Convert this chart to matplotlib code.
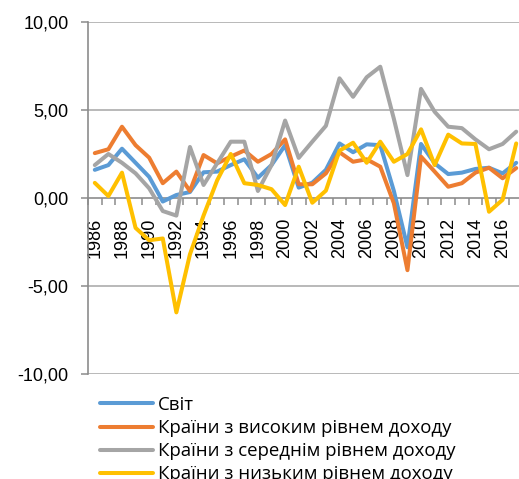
import matplotlib
matplotlib.use("Agg")
import matplotlib.pyplot as plt
import numpy as np

years = list(range(1986, 2018))
world = [1.6, 1.87, 2.8, 2.0, 1.2, -0.2, 0.17, 0.34, 1.46, 1.5, 1.87, 2.2, 1.15, 1.87, 3.0,
         0.59, 0.87, 1.6, 3.1, 2.6, 3.05, 3.0, 0.4, -2.8, 3.07, 1.97, 1.36, 1.44, 1.65, 1.72, 1.4, 2.0]
high = [2.55, 2.77, 4.05, 3.0, 2.29, 0.84, 1.5, 0.4, 2.44, 1.97, 2.35, 2.7, 2.06, 2.5, 3.33,
        0.78, 0.78, 1.4, 2.6, 2.06, 2.2, 1.78, -0.3, -4.1, 2.35, 1.5, 0.64, 0.84, 1.44, 1.72, 1.12, 1.7]
middle = [1.87, 2.5, 2.0, 1.4, 0.55, -0.74, -1.0, 2.9, 0.74, 1.97, 3.2, 3.2, 0.4, 1.87, 4.4,
          2.28, 3.2, 4.1, 6.8, 5.75, 6.86, 7.46, 4.5, 1.3, 6.2, 4.9, 4.05, 3.97, 3.33, 2.77, 3.07, 3.77]
low = [0.86, 0.11, 1.44, -1.7, -2.4, -2.3, -6.5, -3.2, -1.0, 1.0, 2.5, 0.84, 0.74, 0.5, -0.4,
       1.78, -0.27, 0.42, 2.69, 3.14, 2.0, 3.2, 2.06, 2.5, 3.9, 1.87, 3.6, 3.1, 3.07, -0.78, -0.1, 3.1]

series_names = ["Світ", "Країни з високим рівнем доходу",
                "Країни з середнім рівнем доходу", "Країни з низьким рівнем доходу"]
colors = ["#5B9BD5", "#ED7D31", "#A5A5A5", "#FFC000"]
yticks = [-10, -5, 0, 5, 10]
ytick_labels = ["-10,00", "-5,00", "0,00", "5,00", "10,00"]

plt.rcParams["font.family"] = ["Liberation Sans", "DejaVu Sans"]

W, H = 519, 479
fig = plt.figure(figsize=(W / 100, H / 100), dpi=100)
left, right, top, bottom = 88, 523, 22, 374
ax = fig.add_axes([left / W, 1 - bottom / H, (right - left) / W, (bottom - top) / H])

x = np.arange(len(years))
for vals, name, c in zip([world, high, middle, low], series_names, colors):
    ax.plot(x, vals, color=c, lw=2.9, label=name, solid_joinstyle="round", solid_capstyle="round", zorder=3)

ax.set_xlim(-0.5, len(years) - 0.5)
ax.set_ylim(-10, 10)

ax.set_yticks(yticks)
ax.set_yticklabels(ytick_labels, fontsize=13)
for yv in [-10, -5, 5, 10]:
    ax.axhline(yv, color="#A6A6A6", lw=1.1, zorder=1)

for s in ["top", "right"]:
    ax.spines[s].set_visible(False)
ax.spines["left"].set_color("#8C8C8C")
ax.spines["left"].set_linewidth(1.2)
ax.spines["bottom"].set_position(("data", 0))
ax.spines["bottom"].set_color("#8C8C8C")
ax.spines["bottom"].set_linewidth(1.2)

ax.set_xticks(np.arange(-0.5, len(years), 1))
ax.set_xticklabels([])
ax.set_xticks(x[::2], minor=True)
ax.set_xticklabels([str(y) for y in years[::2]], minor=True, rotation=90, fontsize=13)
ax.tick_params(axis="x", which="major", length=5, width=1.1, color="#8C8C8C", direction="out")
ax.tick_params(axis="x", which="minor", length=0, pad=14)
ax.tick_params(axis="y", length=5, width=1.1, color="#8C8C8C", pad=9)

fs = 13.4
fpx = fs * 100 / 72
leg = fig.legend(loc="upper left", bbox_to_anchor=(100 / W, 1 - 396 / H), frameon=False,
                 handlelength=53 / fpx, handletextpad=5 / fpx, labelspacing=0.27,
                 borderaxespad=0, borderpad=0, prop={"family": ["Open Sans", "DejaVu Sans"], "size": fs})

fig.savefig("out.png", dpi=100)
